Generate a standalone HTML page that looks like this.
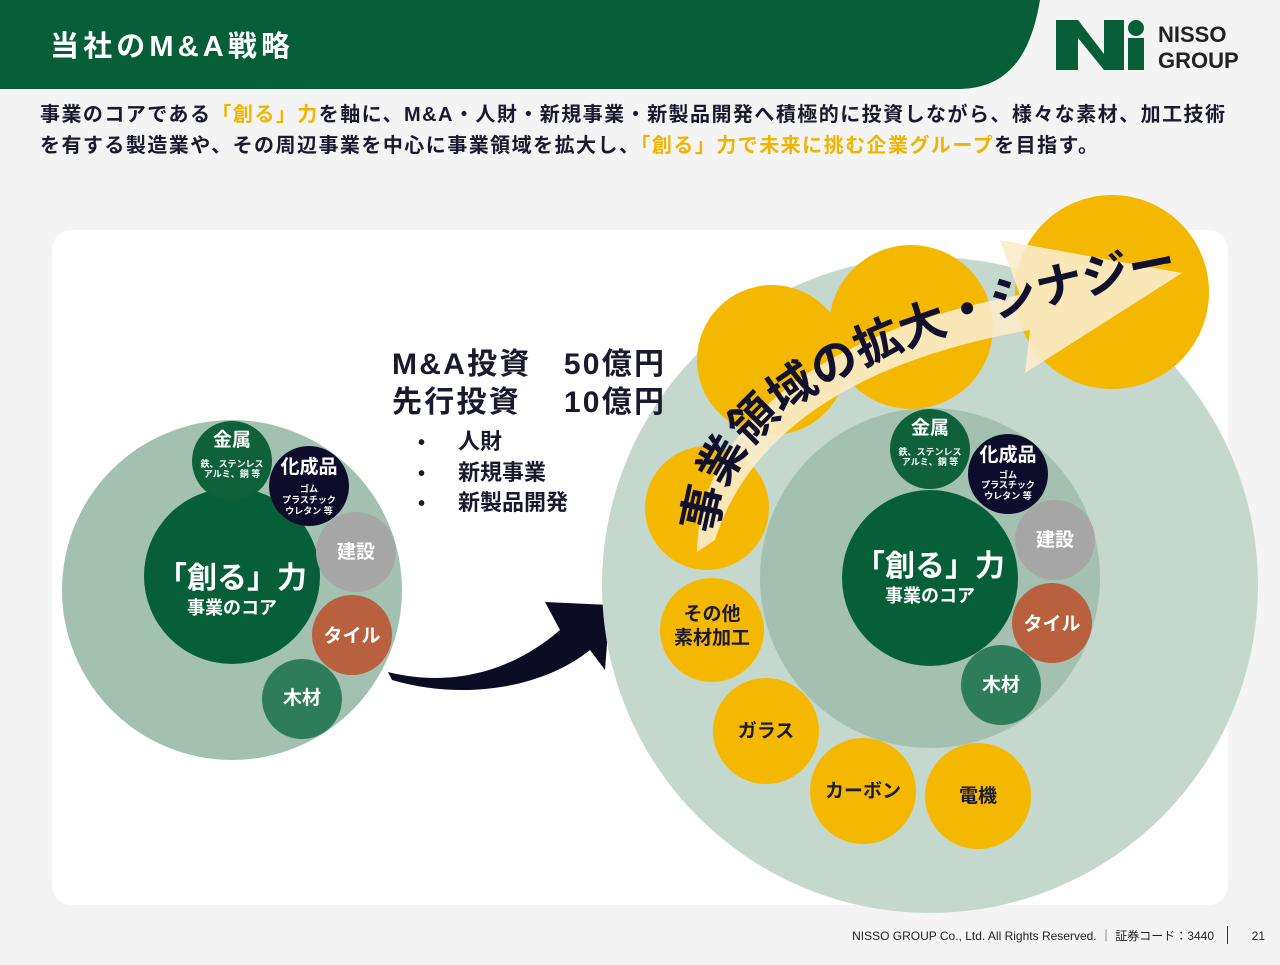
<!DOCTYPE html>
<html><head><meta charset="utf-8">
<style>
body{margin:0;width:1280px;height:960px;background:#f4f4f4;overflow:hidden;font-family:"Liberation Sans","Noto Sans CJK JP",sans-serif;}
svg text{font-family:"Liberation Sans","Noto Sans CJK JP",sans-serif;font-weight:bold;}
</style></head><body>
<svg width="1280" height="960" viewBox="0 0 1280 960" xmlns="http://www.w3.org/2000/svg">
<path d="M0 0 H1040 C1030 60 1005 88 960 89 H0 Z" fill="#065f38"/>
<text x="50" y="56" font-size="29" fill="#fff" textLength="240">当社のM&amp;A戦略</text>
<!-- logo -->
<path d="M1056 20 h22 l26 34 v-34 h20 v50 h-20 l-26 -32 v32 h-22 z" fill="#065f38"/>
<rect x="1128" y="38" width="16" height="32" fill="#065f38"/>
<circle cx="1136" cy="28" r="8" fill="#065f38"/>
<text x="1158" y="42" font-size="22" fill="#222">NISSO</text>
<text x="1158" y="68" font-size="22" fill="#222">GROUP</text>
<text x="40" y="121" font-size="20" fill="#1a1a2e" textLength="1185">事業のコアである<tspan fill="#f0b400">「創る」力</tspan>を軸に、M&amp;A・人財・新規事業・新製品開発へ積極的に投資しながら、様々な素材、加工技術</text>
<text x="40" y="152" font-size="20" fill="#1a1a2e" textLength="1058">を有する製造業や、その周辺事業を中心に事業領域を拡大し、<tspan fill="#f0b400">「創る」力で未来に挑む企業グループ</tspan>を目指す。</text>
<rect x="52" y="230" width="1176" height="675" rx="20" fill="#fff"/>
<!-- left -->
<circle cx="232" cy="590" r="170" fill="#a2c1b0"/>
<circle cx="232" cy="576" r="88" fill="#065f38"/>
<text x="232" y="588" font-size="30" fill="#fff" text-anchor="middle">「創る」力</text>
<text x="232" y="614" font-size="18" fill="#fff" text-anchor="middle">事業のコア</text>
<circle cx="232" cy="461" r="40" fill="#0e6138"/>
<text x="232" y="446" font-size="19" fill="#fff" text-anchor="middle">金属</text>
<text x="232" y="467" font-size="9" fill="#fff" text-anchor="middle">鉄、ステンレス</text>
<text x="232" y="477" font-size="9" fill="#fff" text-anchor="middle">アルミ、銅 等</text>
<circle cx="309" cy="486" r="40" fill="#0d0d2b"/>
<text x="309" y="473" font-size="19" fill="#fff" text-anchor="middle">化成品</text>
<text x="309" y="492" font-size="9" fill="#fff" text-anchor="middle">ゴム</text>
<text x="309" y="503" font-size="9" fill="#fff" text-anchor="middle">プラスチック</text>
<text x="309" y="514" font-size="9" fill="#fff" text-anchor="middle">ウレタン 等</text>
<circle cx="356" cy="552" r="40" fill="#a6a6a6"/>
<text x="356" y="558" font-size="19" fill="#fff" text-anchor="middle">建設</text>
<circle cx="352" cy="635" r="40" fill="#b9613f"/>
<text x="352" y="642" font-size="19" fill="#fff" text-anchor="middle">タイル</text>
<circle cx="302" cy="699" r="40" fill="#2e7d5a"/>
<text x="302" y="704" font-size="19" fill="#fff" text-anchor="middle">木材</text>
<path d="M388 672 C460 690 520 665 560 630 L545 602 L610 605 L605 670 L590 650 C540 690 460 700 392 680 Z" fill="#0c0c25"/>
<!-- right -->
<circle cx="930" cy="585" r="328" fill="#c5d8ce"/>
<circle cx="930" cy="578" r="170" fill="#a3c0b0"/>
<circle cx="707" cy="508" r="62" fill="#f5b800"/>
<circle cx="772" cy="360" r="75" fill="#f5b800"/>
<circle cx="911" cy="327" r="82" fill="#f5b800"/>
<circle cx="1112" cy="292" r="97" fill="#f5b800"/>
<circle cx="712" cy="630" r="52" fill="#f5b800"/>
<text x="712" y="620" font-size="19" fill="#1a1a2e" text-anchor="middle">その他</text>
<text x="712" y="644" font-size="19" fill="#1a1a2e" text-anchor="middle">素材加工</text>
<circle cx="766" cy="731" r="53" fill="#f5b800"/>
<text x="766" y="737" font-size="19" fill="#1a1a2e" text-anchor="middle">ガラス</text>
<circle cx="863" cy="791" r="53" fill="#f5b800"/>
<text x="863" y="797" font-size="19" fill="#1a1a2e" text-anchor="middle">カーボン</text>
<circle cx="978" cy="796" r="53" fill="#f5b800"/>
<text x="978" y="802" font-size="19" fill="#1a1a2e" text-anchor="middle">電機</text>
<circle cx="930" cy="578" r="88" fill="#065f38"/>
<text x="930" y="576" font-size="30" fill="#fff" text-anchor="middle">「創る」力</text>
<text x="930" y="602" font-size="18" fill="#fff" text-anchor="middle">事業のコア</text>
<circle cx="930" cy="449" r="40" fill="#0e6138"/>
<text x="930" y="434" font-size="19" fill="#fff" text-anchor="middle">金属</text>
<text x="930" y="455" font-size="9" fill="#fff" text-anchor="middle">鉄、ステンレス</text>
<text x="930" y="465" font-size="9" fill="#fff" text-anchor="middle">アルミ、銅 等</text>
<circle cx="1008" cy="474" r="40" fill="#0d0d2b"/>
<text x="1008" y="461" font-size="19" fill="#fff" text-anchor="middle">化成品</text>
<text x="1008" y="478" font-size="9" fill="#fff" text-anchor="middle">ゴム</text>
<text x="1008" y="488" font-size="9" fill="#fff" text-anchor="middle">プラスチック</text>
<text x="1008" y="499" font-size="9" fill="#fff" text-anchor="middle">ウレタン 等</text>
<circle cx="1055" cy="540" r="40" fill="#a6a6a6"/>
<text x="1055" y="546" font-size="19" fill="#fff" text-anchor="middle">建設</text>
<circle cx="1052" cy="623" r="40" fill="#b9613f"/>
<text x="1052" y="630" font-size="19" fill="#fff" text-anchor="middle">タイル</text>
<circle cx="1001" cy="685" r="40" fill="#2e7d5a"/>
<text x="1001" y="691" font-size="19" fill="#fff" text-anchor="middle">木材</text>
<!-- middle text -->
<text x="392" y="374" font-size="30" fill="#1a1a2e" textLength="272">M&amp;A投資　50億円</text>
<text x="392" y="412" font-size="30" fill="#1a1a2e" textLength="272">先行投資　 10億円</text>
<text x="418" y="449" font-size="20" fill="#1a1a2e">•</text>
<text x="418" y="480" font-size="20" fill="#1a1a2e">•</text>
<text x="418" y="510" font-size="20" fill="#1a1a2e">•</text>
<text x="458" y="449" font-size="22" fill="#1a1a2e">人財</text>
<text x="458" y="480" font-size="22" fill="#1a1a2e">新規事業</text>
<text x="458" y="510" font-size="22" fill="#1a1a2e">新製品開発</text>
<!-- curved arrow -->
<path d="M697 552 C700 420 830 330 1020 295 L1000 240 L1182 273 L1025 373 L1030 330 C860 360 750 430 715 540 Z" fill="#fbeccb" opacity="0.9"/>
<path id="tp" d="M716 535 C725 420 840 340 1185 275" fill="none"/>
<text font-size="47" fill="#11112e"><textPath href="#tp">事業領域の拡大・シナジー</textPath></text>
<!-- footer -->
<text x="1214" y="940" font-size="12" fill="#222" text-anchor="end" style="font-weight:normal">NISSO GROUP Co., Ltd. All Rights Reserved. ｜ 証券コード：3440</text>
<rect x="1227" y="926" width="1" height="18" fill="#333"/>
<text x="1265" y="940" font-size="12" fill="#222" text-anchor="end" style="font-weight:normal">21</text>
</svg>
</body></html>
